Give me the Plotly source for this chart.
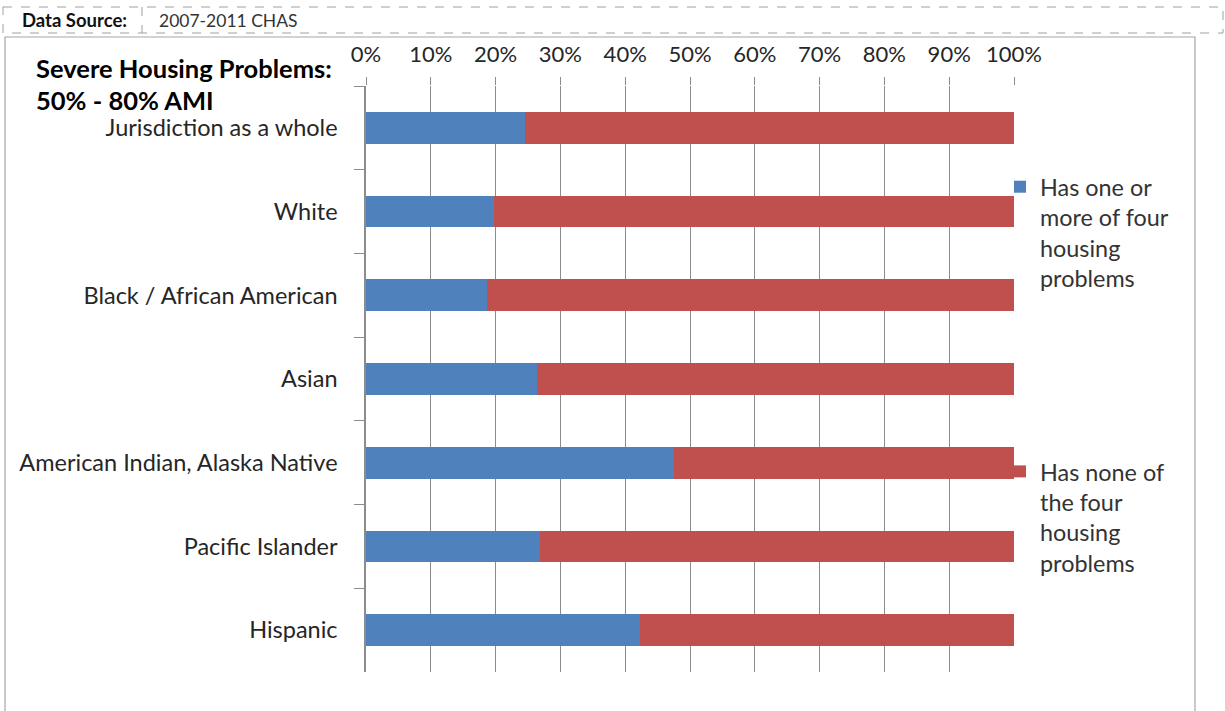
import plotly.graph_objects as go

categories = [
    "Jurisdiction as a whole",
    "White",
    "Black / African American",
    "Asian",
    "American Indian, Alaska Native",
    "Pacific Islander",
    "Hispanic",
]
has_problems = [24.5, 19.7, 18.6, 26.4, 47.6, 26.8, 42.3]
no_problems = [75.5, 80.3, 81.4, 73.6, 52.4, 73.2, 57.7]
x_ticks = [0, 10, 20, 30, 40, 50, 60, 70, 80, 90, 100]
x_tick_labels = ["0%", "10%", "20%", "30%", "40%", "50%", "60%", "70%", "80%", "90%", "100%"]
series_names = [
    "Has one or<br>more of four<br>housing<br>problems",
    "Has none of<br>the four<br>housing<br>problems",
]

W, H = 1225, 711
L, R, T, B = 366, 1014, 86, 672
PW, PH = R - L, B - T


def xp(px):
    return (px - L) / PW


def yp(py):
    return (B - py) / PH


FONT = "Lato, 'Open Sans', sans-serif"
TXT = "#262626"
GRID = "#8c8c8c"

fig = go.Figure()
fig.add_trace(go.Bar(
    y=categories, x=has_problems, orientation="h", name=series_names[0],
    marker=dict(color="#4F81BD", line=dict(width=0)), width=0.38,
    legendgroup="a",
))
fig.add_trace(go.Bar(
    y=categories, x=no_problems, orientation="h", name=series_names[1],
    marker=dict(color="#C0504D", line=dict(width=0)), width=0.38,
    legendgroup="b",
))

shapes = [
    # header dashed box
    dict(type="rect", xref="paper", yref="paper", x0=xp(3), x1=xp(1223), y0=yp(7), y1=yp(33),
         line=dict(color="#a0a0a0", width=1, dash="dash"), layer="below"),
    dict(type="line", xref="paper", yref="paper", x0=xp(142), x1=xp(142), y0=yp(7), y1=yp(33),
         line=dict(color="#a0a0a0", width=1, dash="dash")),
    # solid frame
    dict(type="rect", xref="paper", yref="paper", x0=xp(5), x1=xp(1195), y0=yp(720), y1=yp(37),
         line=dict(color="#a6a6a6", width=1.2), layer="below"),
]

annotations = [
    dict(text="<b>Data Source:</b>", xref="paper", yref="paper", x=xp(20), y=yp(20),
         xanchor="left", yanchor="middle", showarrow=False, font=dict(size=18.5, color="#111", family=FONT)),
    dict(text="2007-2011 CHAS", xref="paper", yref="paper", x=xp(157), y=yp(20),
         xanchor="left", yanchor="middle", showarrow=False, font=dict(size=17.5, color="#333", family=FONT)),
    dict(text="<b>Severe Housing Problems:</b>", xref="paper", yref="paper", x=xp(34), y=yp(68),
         xanchor="left", yanchor="middle", showarrow=False, font=dict(size=25.5, color="#000", family=FONT)),
    dict(text="<b>50% - 80% AMI</b>", xref="paper", yref="paper", x=xp(34), y=yp(100),
         xanchor="left", yanchor="middle", showarrow=False, font=dict(size=25.5, color="#000", family=FONT)),
]

fig.update_layout(
    width=W, height=H,
    margin=dict(l=L, r=W - R, t=T, b=H - B, pad=0),
    paper_bgcolor="white", plot_bgcolor="white",
    barmode="stack", bargap=0.62,
    font=dict(family=FONT, size=22, color=TXT),
    showlegend=True,
    legend=dict(
        x=xp(1000), y=yp(165), xanchor="left", yanchor="top",
        traceorder="grouped", tracegroupgap=160, valign="top",
        font=dict(size=23.4, color="#333", family=FONT),
        bgcolor="rgba(0,0,0,0)", itemwidth=30,
    ),
    shapes=shapes,
    annotations=annotations,
)

fig.update_xaxes(
    side="top", range=[0, 100], tickvals=x_ticks, ticktext=x_tick_labels,
    showgrid=True, gridcolor=GRID, gridwidth=1,
    ticks="outside", ticklen=8, tickcolor=GRID, tickwidth=1,
    showline=False, zeroline=False,
    ticklabelstandoff=6,
    tickfont=dict(size=22, color=TXT, family=FONT),
)
fig.update_yaxes(
    categoryorder="array", categoryarray=categories, autorange="reversed",
    tickson="boundaries", ticks="outside", ticklen=10, tickcolor=GRID, tickwidth=1,
    showline=True, linecolor=GRID, linewidth=1.5, showgrid=False, zeroline=False,
    ticklabelstandoff=22,
    tickfont=dict(size=23.5, color=TXT, family=FONT),
)

fig.write_html("out.html")
